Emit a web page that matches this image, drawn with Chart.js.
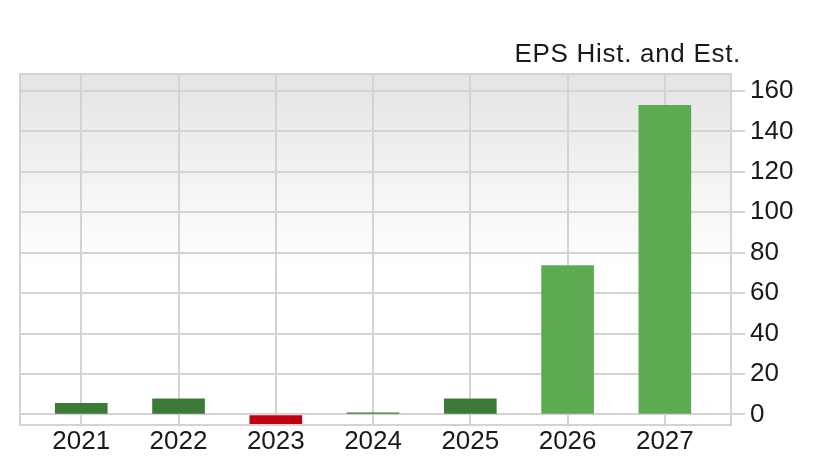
<!DOCTYPE html>
<html>
<head>
<meta charset="utf-8">
<script src="https://cdn.jsdelivr.net/npm/chart.js@4/dist/chart.umd.min.js"></script>
<style>
	html, body { margin: 0; padding: 0; background: #fff; }
	#wrap { width: 816px; height: 464px; }
</style>
</head>
<body>
<div id="wrap"><canvas id="EpsChart" width="816" height="464"></canvas></div>
<script>
const years = ["2021", "2022", "2023", "2024", "2025", "2026", "2027"];
const eps = [5.5, 7.7, -5.2, 0.8, 7.7, 73.6, 152.9];
const kinds = ["hist", "hist", "hist", "hist", "hist", "est", "est"];
const y_ticks = [0, 20, 40, 60, 80, 100, 120, 140, 160];
const title_text = "EPS Hist. and Est.";

const FONT = "'Liberation Sans', Arial, sans-serif";
const GRID = "#d3d3d3";

function bar_color(i) {
	if (eps[i] < 0)
		return "#be0010";
	return kinds[i] === "est" ? "#5cab53" : "#3c7a37";
}

const plot_frame = {
	id: "plot_frame",
	beforeDraw(chart) {
		const { ctx, chartArea: a } = chart;
		const grad = ctx.createLinearGradient(0, a.top, 0, a.bottom);
		grad.addColorStop(0, "#e4e4e4");
		grad.addColorStop(0.55, "#ffffff");
		grad.addColorStop(1, "#ffffff");
		ctx.save();
		ctx.fillStyle = grad;
		ctx.fillRect(a.left, a.top, a.right - a.left, a.bottom - a.top);
		ctx.restore();
	},
	afterDraw(chart) {
		const { ctx, chartArea: a } = chart;
		ctx.save();
		ctx.strokeStyle = GRID;
		ctx.lineWidth = 2;
		ctx.strokeRect(a.left, a.top, a.right - a.left, a.bottom - a.top);
		ctx.fillStyle = "#1a1a1a";
		ctx.font = "26px " + FONT;
		ctx.letterSpacing = "0.7px";
		ctx.textAlign = "right";
		ctx.textBaseline = "alphabetic";
		ctx.fillText(title_text, a.right + 10, 62);
		ctx.restore();
	}
};

const data = {
	datasets: [{
		label: "EPS",
		data: years.map((y, i) => ({ x: i, y: eps[i] })),
		backgroundColor: years.map((y, i) => bar_color(i)),
		borderWidth: 0,
		barThickness: 52
	}]
};

const context = document.getElementById("EpsChart").getContext("2d");
const chart = new Chart(context, {
	type: "bar",
	data,
	plugins: [plot_frame],
	options: {
		responsive: false,
		animation: false,
		layout: { padding: { left: 20, top: 74, right: 0, bottom: 0 } },
		plugins: {
			legend: { display: false },
			tooltip: { enabled: false },
			title: { display: false }
		},
		scales: {
			x: {
				type: "linear",
				min: -0.63,
				max: 6.68,
				offset: false,
				afterBuildTicks: scale => { scale.ticks = years.map((y, i) => ({ value: i })); },
				afterFit: scale => { scale.height = 39; },
				grid: { color: GRID, lineWidth: 2, drawTicks: false, offset: false },
				border: { display: false },
				ticks: {
					color: "#1a1a1a",
					font: { family: FONT, size: 26 },
					padding: 1,
					maxRotation: 0,
					autoSkip: false,
					callback: v => years[v]
				}
			},
			y: {
				position: "right",
				min: -5.2,
				max: 168.4,
				afterBuildTicks: scale => { scale.ticks = y_ticks.map(v => ({ value: v })); },
				afterFit: scale => { scale.width = 85; },
				grid: { color: GRID, lineWidth: 2, tickLength: 14 },
				border: { display: false },
				ticks: {
					color: "#1a1a1a",
					font: { family: FONT, size: 26 },
					padding: 5,
					callback: v => String(v)
				}
			}
		}
	}
});
</script>
</body>
</html>
